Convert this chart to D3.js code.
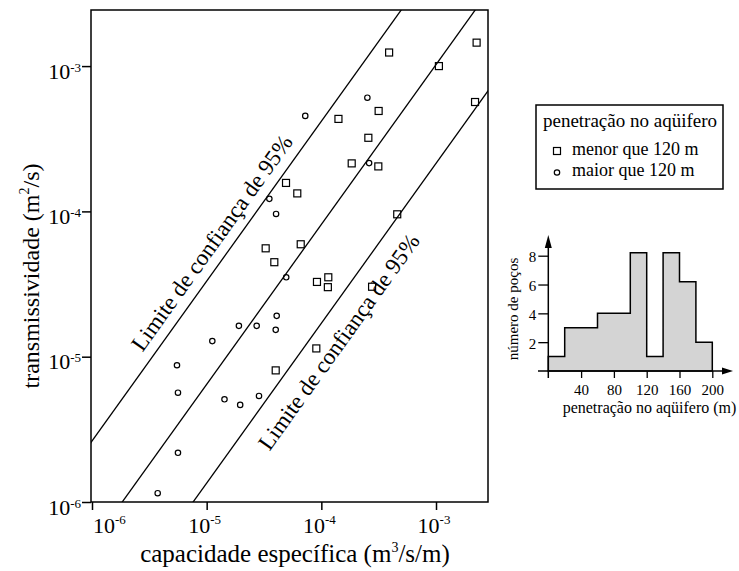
<!DOCTYPE html>
<meta charset="utf-8">
<html>
<body style="margin:0;background:#fff">
<div id="chart"></div>
<script src="https://d3js.org/d3.v7.min.js"></script>
<script>
// capacidade especifica (m3/s/m), transmissividade (m2/s)
var squares = [
  [3.9e-4, 1.24e-3], [2.26e-3, 1.45e-3], [1.06e-3, 1.0e-3], [2.19e-3, 5.66e-4],
  [3.16e-4, 4.91e-4], [1.41e-4, 4.33e-4], [2.57e-4, 3.21e-4], [1.84e-4, 2.14e-4],
  [3.14e-4, 2.04e-4], [4.92e-5, 1.57e-4], [6.17e-5, 1.33e-4], [4.59e-4, 9.55e-5],
  [3.27e-5, 5.57e-5], [6.61e-5, 5.94e-5], [3.89e-5, 4.47e-5], [9.16e-5, 3.27e-5],
  [1.15e-4, 3.52e-5], [1.14e-4, 3.01e-5], [2.77e-4, 3.03e-5], [9.04e-5, 1.14e-5],
  [4.0e-5, 8.05e-6]
];
var circles = [
  [7.24e-5, 4.54e-4], [2.52e-4, 6.06e-4], [2.61e-4, 2.15e-4], [3.52e-5, 1.22e-4],
  [4.03e-5, 9.6e-5], [4.94e-5, 3.52e-5], [4.08e-5, 1.91e-5], [4.0e-5, 1.53e-5],
  [2.73e-5, 1.63e-5], [1.91e-5, 1.63e-5], [1.12e-5, 1.28e-5], [5.51e-6, 8.73e-6],
  [5.62e-6, 5.65e-6], [1.43e-5, 5.09e-6], [1.96e-5, 4.66e-6], [2.86e-5, 5.37e-6],
  [5.62e-6, 2.18e-6], [3.74e-6, 1.15e-6]
];
// lines log10(T) = a + slope * log10(S)
var lineSlope = 1.1;
var lineIntercepts = [1.02, 0.31, -0.37];
var decadeTicks = [1e-6, 1e-5, 1e-4, 1e-3];
var decadeExps = ["-6", "-5", "-4", "-3"];

// histogram: numero de pocos por penetracao no aquifero
var histEdges = [0, 20, 40, 60, 80, 100, 120, 140, 160, 180, 200];
var histCounts = [1, 3, 3, 4, 4, 8.2, 1, 8.2, 6.2, 2];
var histXTicks = [40, 80, 120, 160, 200];
var histYTicks = [2, 4, 6, 8];

var serif = "'Liberation Serif', 'Times New Roman', serif";

var svg = d3.select("#chart").append("svg")
  .attr("width", 739).attr("height", 571)
  .style("font-family", serif);

var L = 91, R = 488, T = 10, B = 502;
var x = d3.scaleLog().domain([Math.pow(10, -6.0087), Math.pow(10, -2.5466)]).range([L, R]);
var y = d3.scaleLog().domain([1e-6, Math.pow(10, -2.614)]).range([B, T]);

svg.append("clipPath").attr("id", "plotclip")
  .append("rect").attr("x", L).attr("y", T).attr("width", R - L).attr("height", B - T);

// confidence lines
var plot = svg.append("g").attr("clip-path", "url(#plotclip)");
lineIntercepts.forEach(function (a) {
  var s0 = -6.2, s1 = -2.3;
  plot.append("line")
    .attr("x1", x(Math.pow(10, s0))).attr("y1", y(Math.pow(10, a + lineSlope * s0)))
    .attr("x2", x(Math.pow(10, s1))).attr("y2", y(Math.pow(10, a + lineSlope * s1)))
    .attr("stroke", "#000").attr("stroke-width", 1.3);
});

var ang = -Math.atan2(y(1e-6) - y(Math.pow(10, -6 + 3 * lineSlope)), x(1e-3) - x(1e-6)) * 180 / Math.PI;

svg.append("text")
  .attr("transform", "translate(212,243) rotate(" + ang + ")")
  .attr("text-anchor", "middle").attr("dominant-baseline", "central")
  .style("font-size", "23px")
  .text("Limite de confiança de 95%");
svg.append("text")
  .attr("transform", "translate(339,342) rotate(" + ang + ")")
  .attr("text-anchor", "middle").attr("dominant-baseline", "central")
  .style("font-size", "23px")
  .text("Limite de confiança de 95%");

// markers
svg.append("g").selectAll("rect").data(squares).enter().append("rect")
  .attr("x", function (d) { return x(d[0]) - 3.5; })
  .attr("y", function (d) { return y(d[1]) - 3.5; })
  .attr("width", 7).attr("height", 7)
  .attr("fill", "none").attr("stroke", "#000").attr("stroke-width", 1.2);
svg.append("g").selectAll("circle").data(circles).enter().append("circle")
  .attr("cx", function (d) { return x(d[0]); })
  .attr("cy", function (d) { return y(d[1]); })
  .attr("r", 2.7)
  .attr("fill", "none").attr("stroke", "#000").attr("stroke-width", 1.2);

// frame
svg.append("rect").attr("x", L).attr("y", T).attr("width", R - L).attr("height", B - T)
  .attr("fill", "none").attr("stroke", "#000").attr("stroke-width", 1.5);

// axes
var yAxis = svg.append("g").attr("transform", "translate(" + L + ",0)")
  .call(d3.axisLeft(y).tickValues(decadeTicks).tickSize(9).tickSizeOuter(0).tickFormat(""));
var xAxis = svg.append("g").attr("transform", "translate(0," + B + ")")
  .call(d3.axisBottom(x).tickValues(decadeTicks).tickSize(8).tickSizeOuter(0).tickFormat(""));
[yAxis, xAxis].forEach(function (g) {
  g.select(".domain").remove();
  g.selectAll("line").attr("stroke", "#000").attr("stroke-width", 1.5);
});

decadeTicks.forEach(function (t, i) {
  var ty = svg.append("text").attr("x", L - 10).attr("y", y(t) + 12.5)
    .attr("text-anchor", "end").style("font-size", "22px");
  ty.append("tspan").text("10");
  ty.append("tspan").attr("dy", -7).style("font-size", "13px").text(decadeExps[i]);

  var tx = svg.append("text").attr("y", 533).style("font-size", "22px");
  if (i === 0) tx.attr("x", x(t) + 1).attr("text-anchor", "start");
  else tx.attr("x", x(t) - 2).attr("text-anchor", "middle");
  tx.append("tspan").text("10");
  tx.append("tspan").attr("dy", -9).style("font-size", "13px").text(decadeExps[i]);
});

var xl = svg.append("text").attr("x", 295).attr("y", 562)
  .attr("text-anchor", "middle").style("font-size", "25px");
xl.append("tspan").text("capacidade específica (m");
xl.append("tspan").attr("dy", -10).style("font-size", "14px").text("3");
xl.append("tspan").attr("dy", 10).text("/s/m)");

var yl = svg.append("text").attr("transform", "translate(39,276) rotate(-90)")
  .attr("text-anchor", "middle").style("font-size", "24px");
yl.append("tspan").text("transmissividade (m");
yl.append("tspan").attr("dy", -10).style("font-size", "14px").text("2");
yl.append("tspan").attr("dy", 10).text("/s)");

// legend
var lg = svg.append("g");
lg.append("rect").attr("x", 536).attr("y", 105).attr("width", 187).attr("height", 84)
  .attr("fill", "none").attr("stroke", "#000").attr("stroke-width", 1.5);
lg.append("text").attr("x", 630).attr("y", 127).attr("text-anchor", "middle")
  .style("font-size", "19px").text("penetração no aqüifero");
lg.append("rect").attr("x", 553.5).attr("y", 147.5).attr("width", 7).attr("height", 7)
  .attr("fill", "none").attr("stroke", "#000").attr("stroke-width", 1.2);
lg.append("text").attr("x", 572).attr("y", 155).style("font-size", "18px").text("menor que 120 m");
lg.append("circle").attr("cx", 557).attr("cy", 172.5).attr("r", 2.7)
  .attr("fill", "none").attr("stroke", "#000").attr("stroke-width", 1.2);
lg.append("text").attr("x", 572).attr("y", 176).style("font-size", "18px").text("maior que 120 m");

// histogram (step outline, no inner bar edges)
var hx = d3.scaleLinear().domain([0, 200]).range([548.3, 712.3]);
var hy = d3.scaleLinear().domain([0, 8]).range([371, 255.7]);

var pts = [[hx(0), hy(0)]];
histCounts.forEach(function (c, i) {
  pts.push([hx(histEdges[i]), hy(c)]);
  pts.push([hx(histEdges[i + 1]), hy(c)]);
});
pts.push([hx(200), hy(0)]);
svg.append("path").attr("d", d3.line()(pts) + "Z")
  .attr("fill", "#d4d4d4").attr("stroke", "#000").attr("stroke-width", 1.5)
  .attr("stroke-linejoin", "miter");

var hxa = svg.append("g").attr("transform", "translate(0,371)")
  .call(d3.axisBottom(hx).tickValues(histXTicks).tickSize(7).tickSizeOuter(0));
var hya = svg.append("g").attr("transform", "translate(548.3,0)")
  .call(d3.axisLeft(hy).tickValues(histYTicks).tickSize(10).tickSizeOuter(0));
[hxa, hya].forEach(function (g) {
  g.select(".domain").remove();
  g.selectAll("line").attr("stroke", "#000").attr("stroke-width", 1.3);
  g.selectAll("text").style("font-family", serif).style("font-size", "15px").attr("fill", "#000");
});
hxa.selectAll("text").attr("y", 24).attr("dy", 0);
hya.selectAll("text").attr("x", -12).attr("dy", "0.4em");

svg.append("line").attr("x1", 538).attr("x2", 724).attr("y1", 371).attr("y2", 371)
  .attr("stroke", "#000").attr("stroke-width", 1.5);
svg.append("line").attr("x1", 548.3).attr("x2", 548.3).attr("y1", 247).attr("y2", 378)
  .attr("stroke", "#000").attr("stroke-width", 1.5);
svg.append("path").attr("d", "M733,371L722,367.5L722,374.5Z").attr("fill", "#000");
svg.append("path").attr("d", "M548.3,235L544.8,248L551.8,248Z").attr("fill", "#000");

svg.append("text").attr("x", 649.5).attr("y", 413).attr("text-anchor", "middle")
  .style("font-size", "16px").text("penetração no aqüifero (m)");
svg.append("text").attr("transform", "translate(518,309) rotate(-90)")
  .attr("text-anchor", "middle").style("font-size", "15px").text("número de poços");
</script>
</body>
</html>
